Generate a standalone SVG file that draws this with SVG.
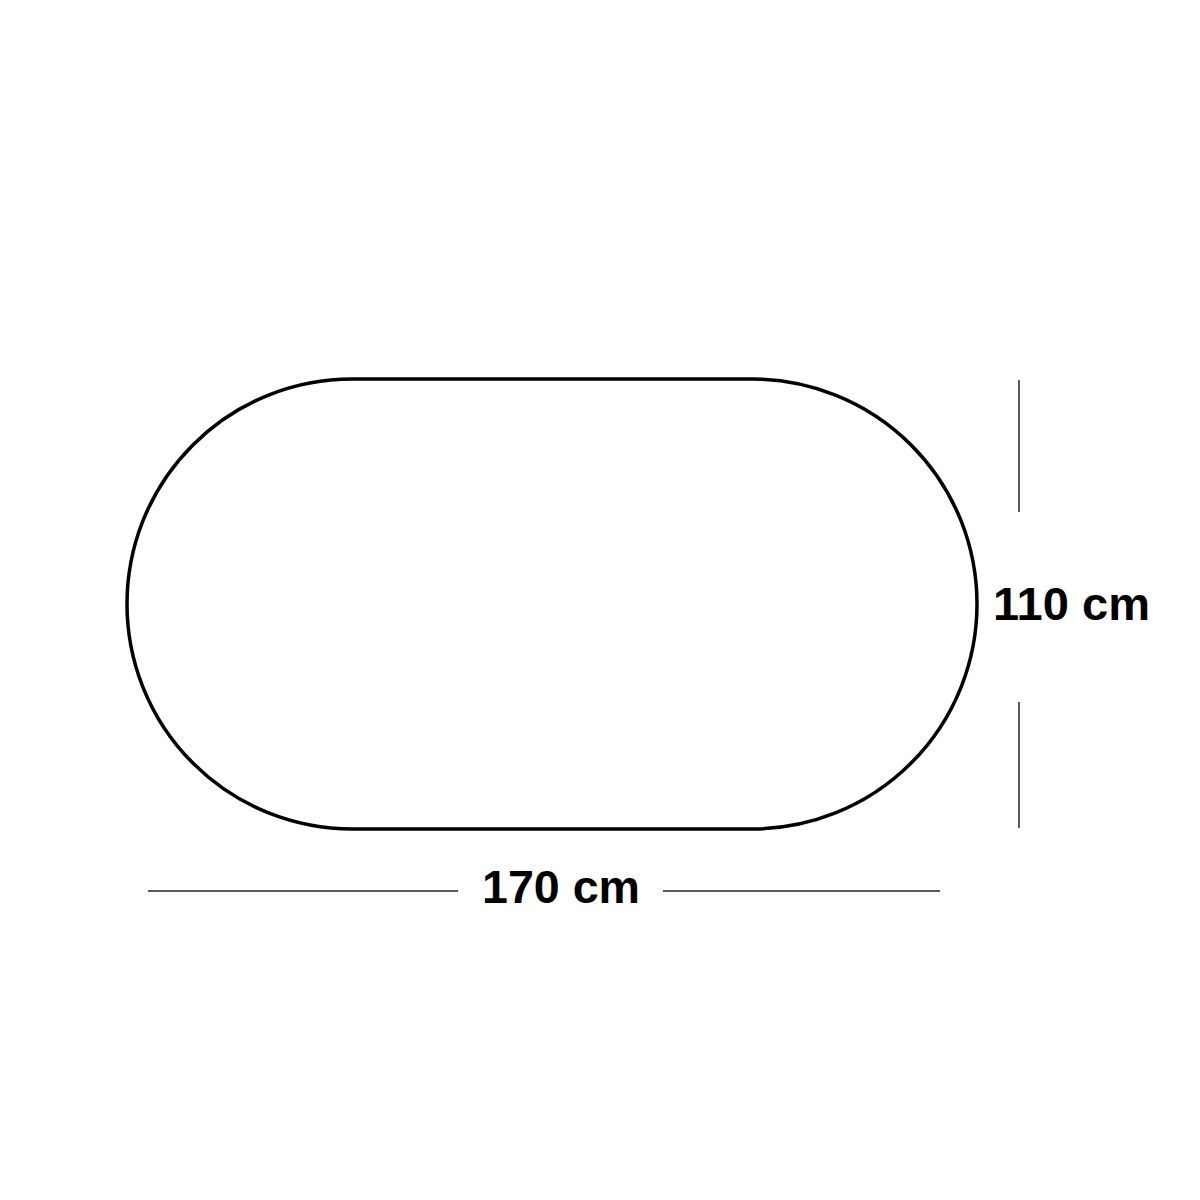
<svg xmlns="http://www.w3.org/2000/svg" width="1200" height="1200" viewBox="0 0 1200 1200">
<style>
.shape{fill:none;stroke:#000;stroke-width:3.5}
.dim{stroke:#222;stroke-width:1.5;fill:none}
.lbl{font-family:"Liberation Sans",Arial,sans-serif;font-weight:bold;font-size:47px;fill:#000}
</style>
<rect width="1200" height="1200" fill="#fff"/>
<g id="table">
<path class="shape" d="M352,379 L752,379 A225,225 0 0 1 752,829 L352,829 A225,225 0 0 1 352,379 Z"/>
</g>
<g id="dimensions">
<line class="dim" x1="148" y1="891" x2="458" y2="891"/>
<line class="dim" x1="663" y1="891" x2="940" y2="891"/>
<line class="dim" x1="1019" y1="380" x2="1019" y2="512"/>
<line class="dim" x1="1019" y1="702" x2="1019" y2="828"/>
</g>
<g id="labels">
<text class="lbl" x="993" y="620" textLength="157" lengthAdjust="spacingAndGlyphs">110 cm</text>
<text class="lbl" x="482" y="903" textLength="158" lengthAdjust="spacingAndGlyphs">170 cm</text>
</g>
</svg>
